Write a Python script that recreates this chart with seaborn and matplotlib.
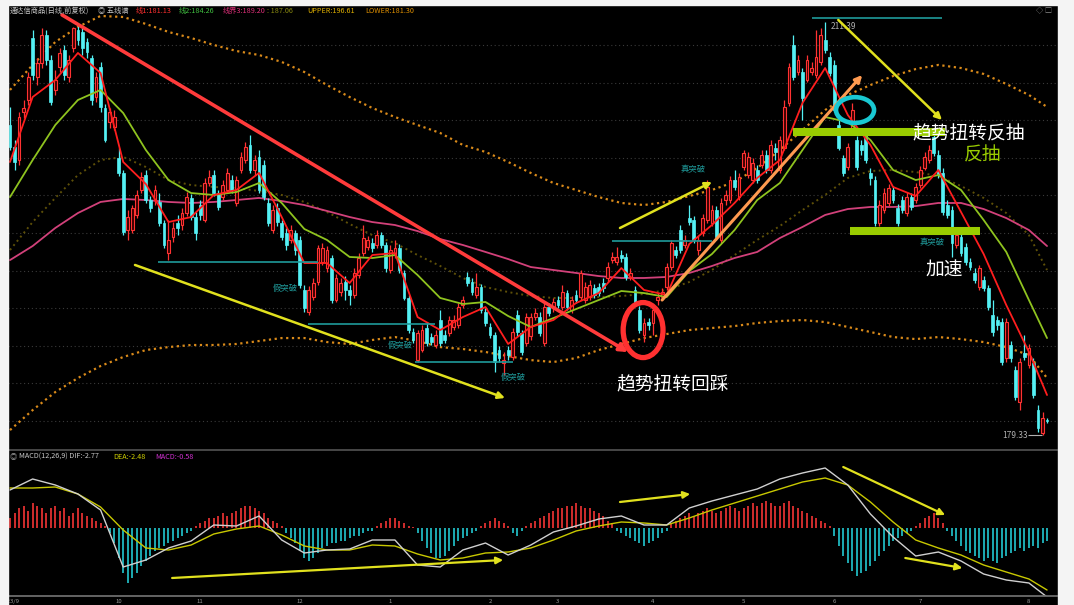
import numpy as np
import pandas as pd
import matplotlib
matplotlib.use("Agg")
import matplotlib.pyplot as plt
from matplotlib.patches import Ellipse, FancyArrowPatch, Rectangle
import seaborn as sns

W, H = 1074, 605

# ---- daily candles (230 bars) ----
opens = [
    203.40, 201.69, 200.68, 204.41, 205.34, 210.15, 207.13, 208.21, 210.38, 208.44,
    206.12, 207.90, 209.22, 207.13, 209.38, 210.77, 210.62, 209.84, 208.60, 205.57,
    207.90, 204.72, 203.63, 203.25, 200.84, 199.68, 195.25, 195.25, 196.42, 198.36,
    199.52, 197.58, 197.58, 197.43, 195.80, 193.47, 194.71, 195.80, 195.64, 196.57,
    197.74, 196.26, 197.19, 196.03, 198.90, 199.52, 198.12, 197.81, 198.36, 199.13,
    197.35, 199.91, 200.68, 201.85, 199.91, 200.92, 200.30, 197.35, 195.25, 196.96,
    195.80, 195.02, 194.48, 195.02, 194.48, 190.60, 188.89, 190.05, 191.22, 192.77,
    192.30, 193.08, 189.82, 190.44, 191.22, 190.60, 190.21, 191.76, 193.47, 193.93,
    194.24, 194.09, 194.86, 194.09, 192.15, 193.31, 193.86, 191.92, 189.98, 187.34,
    185.16, 185.94, 187.65, 186.95, 186.33, 188.27, 187.10, 187.26, 187.73, 187.88,
    189.43, 191.61, 191.22, 190.21, 190.83, 188.89, 187.73, 187.10, 185.94, 184.93,
    185.94, 185.40, 188.66, 187.26, 186.48, 187.03, 188.50, 188.50, 186.48, 189.28,
    189.20, 189.82, 189.28, 190.36, 189.04, 190.21, 190.05, 189.82, 190.05, 190.75,
    190.83, 191.14, 191.53, 192.92, 192.77, 193.31, 193.16, 191.61, 190.60, 189.04,
    187.10, 188.11, 188.04, 189.82, 190.05, 190.83, 192.38, 193.70, 195.25, 194.09,
    196.18, 196.03, 193.70, 195.02, 196.03, 195.80, 196.80, 194.48, 197.58, 197.58,
    199.13, 197.81, 200.14, 199.52, 199.13, 199.91, 200.30, 201.07, 199.91, 201.62,
    199.91, 201.62, 205.11, 209.61, 207.51, 207.51, 206.89, 207.51, 207.28, 208.29,
    210.00, 208.68, 208.06, 203.40, 200.84, 200.14, 203.01, 202.24, 201.85, 202.78,
    199.68, 199.13, 195.80, 196.80, 197.35, 198.36, 196.96, 197.58, 196.57, 197.81,
    197.58, 198.74, 200.06, 200.68, 202.47, 201.07, 199.68, 197.19, 196.80, 194.09,
    194.71, 193.93, 192.77, 191.92, 190.83, 191.37, 190.75, 188.66, 188.27, 188.11,
    185.32, 186.33, 184.39, 181.91, 185.71, 184.78, 184.93, 181.28, 179.50, 180.51,
]
closes = [
    201.69, 200.53, 204.02, 204.72, 207.13, 207.28, 208.21, 210.38, 208.44, 205.19,
    206.89, 208.99, 207.28, 208.44, 210.93, 210.00, 209.38, 209.07, 205.34, 207.13,
    204.80, 202.24, 204.41, 204.02, 199.68, 195.10, 196.26, 196.96, 197.97, 199.37,
    197.58, 196.96, 198.36, 195.80, 194.09, 194.48, 195.41, 195.41, 196.57, 197.81,
    196.26, 195.02, 196.42, 198.90, 199.37, 198.12, 197.04, 198.74, 199.68, 198.36,
    199.13, 200.92, 201.69, 199.91, 200.68, 198.36, 197.81, 195.80, 196.80, 195.87,
    194.71, 194.09, 195.25, 193.70, 190.98, 189.20, 190.60, 191.14, 193.86, 193.86,
    193.70, 189.82, 191.53, 191.14, 190.60, 190.21, 191.92, 193.08, 194.63, 194.48,
    193.86, 194.86, 194.09, 192.30, 193.70, 193.86, 192.15, 189.98, 187.49, 186.72,
    187.26, 187.49, 186.48, 186.56, 187.10, 186.48, 186.72, 188.27, 188.27, 189.28,
    189.82, 191.14, 190.44, 190.83, 189.04, 188.04, 187.10, 185.01, 185.32, 185.16,
    185.55, 187.34, 187.34, 185.79, 188.50, 188.50, 188.81, 187.26, 189.28, 188.81,
    189.67, 189.43, 190.44, 189.28, 189.82, 189.82, 191.92, 190.83, 190.98, 190.21,
    190.36, 190.75, 192.38, 193.16, 193.16, 193.08, 191.61, 191.92, 189.67, 187.49,
    188.04, 187.88, 189.04, 190.05, 190.44, 192.38, 194.24, 193.31, 193.70, 194.48,
    195.87, 194.48, 194.48, 196.18, 198.59, 196.80, 194.71, 197.35, 197.97, 199.13,
    198.59, 199.37, 201.23, 200.92, 200.45, 199.13, 201.07, 199.91, 201.85, 201.31,
    202.24, 204.80, 207.90, 207.13, 208.44, 205.50, 208.44, 207.82, 208.68, 210.38,
    209.22, 207.44, 204.56, 201.62, 199.68, 201.69, 204.56, 200.14, 201.46, 200.68,
    199.29, 195.80, 197.19, 198.12, 198.51, 197.58, 195.80, 196.80, 197.81, 197.04,
    198.59, 199.91, 200.92, 201.46, 201.23, 199.52, 196.65, 196.42, 194.24, 194.86,
    193.47, 192.77, 192.38, 191.37, 192.30, 190.75, 189.28, 187.34, 187.88, 185.01,
    188.11, 185.32, 182.29, 185.01, 185.40, 186.10, 182.45, 179.89, 180.66, 180.43,
]
highs = [
    204.80, 202.24, 204.41, 205.34, 207.51, 210.77, 208.60, 210.93, 210.77, 208.83,
    207.67, 209.38, 209.61, 208.83, 211.01, 211.08, 210.93, 210.15, 208.83, 207.51,
    208.29, 205.03, 204.72, 204.56, 201.62, 199.91, 196.80, 197.19, 198.36, 199.75,
    199.91, 197.89, 198.74, 198.12, 196.03, 196.03, 195.87, 196.42, 196.96, 198.20,
    198.05, 196.65, 197.58, 199.29, 199.91, 199.91, 198.36, 199.13, 200.06, 199.52,
    199.44, 201.31, 202.08, 202.62, 201.07, 201.46, 200.68, 197.74, 197.19, 197.35,
    196.03, 195.41, 195.64, 195.25, 194.79, 190.98, 190.91, 191.53, 194.09, 194.24,
    194.01, 193.31, 191.84, 191.53, 191.68, 190.98, 192.30, 193.47, 195.64, 194.79,
    194.63, 195.25, 195.10, 194.32, 194.09, 194.48, 194.17, 192.15, 190.21, 187.65,
    187.49, 187.88, 188.11, 187.26, 187.49, 189.04, 187.49, 188.58, 188.66, 189.59,
    190.13, 191.99, 191.53, 191.92, 191.06, 189.20, 188.04, 187.34, 186.25, 185.79,
    186.25, 187.65, 189.04, 187.49, 188.81, 188.81, 189.20, 188.89, 189.59, 189.59,
    189.98, 190.13, 190.98, 190.60, 190.13, 190.60, 192.15, 191.22, 191.37, 191.06,
    191.14, 191.53, 192.77, 193.55, 193.93, 193.70, 193.47, 192.30, 190.91, 189.35,
    188.42, 188.42, 189.43, 190.36, 190.75, 192.69, 194.48, 194.01, 195.64, 194.86,
    197.19, 196.34, 194.79, 196.49, 199.13, 197.19, 197.11, 197.74, 198.36, 199.44,
    199.91, 199.68, 201.46, 201.31, 200.84, 200.30, 201.46, 201.46, 202.24, 202.00,
    202.55, 205.34, 208.21, 210.38, 208.83, 207.82, 208.83, 208.29, 210.77, 210.93,
    211.39, 209.07, 208.44, 203.79, 201.07, 202.00, 205.11, 202.55, 202.24, 203.17,
    200.06, 199.44, 197.58, 198.51, 198.82, 198.67, 197.27, 197.89, 198.20, 198.12,
    198.90, 200.22, 201.31, 201.85, 203.17, 201.46, 200.06, 197.58, 197.11, 195.25,
    195.02, 194.24, 193.08, 192.30, 192.54, 191.68, 190.98, 189.82, 188.58, 188.42,
    188.42, 186.64, 184.70, 185.32, 187.10, 186.41, 185.32, 181.67, 181.13, 180.66,
]
lows = [
    201.46, 199.91, 200.30, 203.94, 204.95, 206.89, 206.50, 207.82, 208.06, 204.95,
    205.73, 207.51, 206.89, 206.74, 209.07, 209.61, 208.83, 208.60, 204.95, 205.19,
    204.41, 202.08, 203.17, 203.01, 199.44, 194.86, 194.48, 195.02, 196.18, 198.12,
    197.35, 196.65, 197.19, 195.56, 193.86, 192.92, 194.32, 194.86, 195.25, 196.34,
    196.03, 194.48, 196.03, 195.87, 198.67, 197.89, 196.80, 197.58, 198.12, 198.12,
    197.11, 199.68, 200.45, 199.68, 199.52, 198.12, 197.58, 195.56, 195.02, 195.56,
    194.48, 193.70, 194.24, 193.31, 190.75, 188.89, 188.66, 189.82, 190.98, 192.54,
    191.99, 189.59, 189.67, 190.13, 189.82, 189.43, 189.98, 191.53, 193.23, 193.70,
    193.55, 193.86, 193.86, 191.99, 191.92, 193.08, 191.92, 189.82, 187.26, 186.48,
    185.01, 185.79, 186.25, 186.33, 186.10, 186.25, 186.48, 187.03, 187.49, 187.65,
    189.20, 190.91, 190.21, 189.98, 188.81, 187.80, 186.87, 184.23, 185.01, 184.00,
    185.16, 185.16, 187.03, 185.55, 186.25, 186.72, 188.27, 187.03, 186.25, 188.58,
    188.89, 189.20, 189.04, 189.04, 188.81, 189.59, 189.82, 189.59, 189.82, 189.98,
    190.13, 190.44, 191.22, 192.69, 192.54, 192.77, 191.37, 191.37, 189.43, 187.26,
    186.56, 187.49, 187.10, 189.43, 189.82, 190.60, 192.15, 193.08, 193.47, 193.86,
    195.64, 194.24, 193.31, 194.79, 195.80, 195.56, 194.48, 194.24, 197.19, 197.35,
    198.36, 197.58, 199.91, 199.29, 198.90, 198.90, 200.06, 199.68, 199.68, 200.68,
    199.68, 201.46, 204.87, 206.89, 207.28, 203.79, 206.74, 207.28, 207.05, 208.06,
    208.99, 207.20, 204.41, 201.46, 199.44, 199.91, 202.78, 199.91, 201.07, 200.45,
    198.74, 195.56, 195.56, 196.57, 197.11, 197.35, 195.56, 196.57, 196.34, 196.80,
    197.35, 198.51, 199.91, 200.45, 200.99, 199.29, 196.42, 196.18, 193.16, 193.86,
    193.23, 192.54, 192.15, 191.14, 190.60, 190.52, 189.04, 187.03, 187.49, 184.78,
    185.01, 185.01, 182.06, 181.28, 185.16, 184.54, 182.22, 179.58, 179.33, 180.28,
]

# ---- indicator lines, read every 5 bars ----
line_idx = list(range(0, 230, 5)) + [229]
line1 = [200.53, 205.57, 206.89, 208.99, 207.44, 200.53, 198.82, 195.87, 196.26, 197.97,
         198.36, 199.68, 196.26, 192.69, 192.69, 191.14, 193.31, 193.47, 188.50, 187.49,
         188.50, 189.28, 186.41, 187.73, 188.27, 189.59, 190.36, 192.30, 190.60, 190.21,
         194.17, 195.64, 197.35, 199.29, 200.68, 205.11, 207.82, 204.18, 201.85, 198.59,
         197.89, 199.91, 196.65, 193.39, 189.43, 185.79, 182.45]
line2 = [197.81, 200.68, 203.40, 205.34, 206.12, 204.33, 201.46, 199.13, 198.12, 197.97,
         198.20, 198.90, 197.35, 195.33, 194.48, 193.16, 193.08, 193.31, 191.76, 189.98,
         189.51, 189.67, 188.58, 187.73, 188.42, 189.12, 189.82, 190.52, 190.36, 190.05,
         192.07, 193.39, 195.25, 197.58, 198.90, 201.46, 204.02, 203.63, 202.24, 199.91,
         199.13, 199.52, 198.36, 196.03, 193.55, 189.82, 186.87]
line3 = [192.92, 194.01, 195.41, 196.57, 197.43, 197.66, 197.58, 197.43, 197.35, 197.43,
         197.58, 197.74, 197.50, 197.19, 196.73, 196.26, 195.87, 195.64, 195.17, 194.55,
         194.09, 193.55, 193.00, 192.38, 192.15, 191.92, 191.68, 191.53, 191.53, 191.61,
         191.92, 192.46, 193.08, 193.55, 194.63, 195.49, 196.42, 196.88, 197.04, 197.04,
         197.11, 197.35, 197.35, 196.88, 196.18, 195.25, 194.01]
line4 = [193.70, 195.87, 197.74, 199.52, 200.68, 200.92, 200.14, 199.13, 198.74, 198.59,
         198.51, 198.28, 197.97, 197.43, 196.65, 195.72, 194.86, 194.24, 193.31, 192.46,
         191.53, 190.83, 190.44, 190.13, 189.98, 189.98, 190.05, 190.13, 190.29, 190.60,
         191.22, 192.15, 193.31, 194.48, 195.56, 196.80, 197.97, 199.29, 199.83, 199.91,
         199.75, 199.44, 198.67, 197.74, 196.57, 194.86, 192.15]
upper = [206.12, 208.06, 209.84, 211.01, 211.86, 211.78, 211.24, 210.62, 210.15, 209.61,
         209.14, 208.83, 208.29, 207.51, 206.50, 205.57, 204.72, 204.02, 203.40, 202.78,
         201.85, 201.31, 200.53, 199.68, 198.90, 198.36, 197.81, 197.35, 197.19, 197.43,
         197.89, 198.36, 198.98, 200.06, 201.46, 203.01, 204.56, 205.73, 206.50, 207.20,
         207.74, 208.06, 207.82, 207.36, 206.58, 205.73, 204.80]
lower = [179.73, 181.28, 182.68, 183.77, 184.70, 185.40, 185.94, 186.17, 186.33, 186.33,
         186.41, 186.64, 186.87, 186.87, 186.56, 186.41, 186.72, 186.95, 186.64, 186.17,
         186.02, 185.79, 185.47, 185.16, 185.01, 185.32, 185.94, 186.41, 186.87, 187.18,
         187.49, 187.65, 187.80, 188.04, 188.19, 188.27, 188.11, 187.73, 187.34, 186.95,
         186.79, 186.95, 186.79, 186.56, 186.17, 185.55, 183.77]

# ---- MACD(12,26,9) ----
dif = [1.52, 1.96, 1.72, 1.36, 0.72, -1.56, -1.28, -0.80, -0.52, 0.12,
       0.08, 0.48, -0.48, -1.00, -0.88, -0.84, -0.48, -0.48, -1.48, -1.56,
       -0.88, -0.60, -1.08, -0.68, -0.16, 0.08, 0.36, 0.48, 0.12, 0.12,
       0.80, 1.08, 1.32, 1.56, 1.96, 2.20, 2.40, 1.72, 0.56, -0.36,
       -1.12, -0.96, -1.32, -1.84, -2.08, -2.20, -2.76]
dea = [1.60, 1.60, 1.64, 1.36, 0.84, -0.08, -0.80, -0.88, -0.68, -0.24,
       -0.04, 0.08, -0.28, -0.72, -0.88, -0.88, -0.68, -0.72, -1.04, -1.28,
       -1.20, -1.00, -0.96, -0.80, -0.48, -0.12, 0.08, 0.24, 0.20, 0.12,
       0.40, 0.72, 1.00, 1.28, 1.56, 1.84, 2.00, 1.72, 1.04, 0.24,
       -0.48, -0.80, -1.08, -1.48, -1.76, -2.04, -2.48]
macd_hist = (
    [0.4, 0.6, 0.8, 0.9, 0.7, 1.0, 0.9, 0.8, 0.6, 0.8, 0.9, 0.7, 0.8, 0.5, 0.6, 0.8, 0.6, 0.5, 0.4, 0.3, 0.2, 0.1]
    + [-0.2, -0.6, -1.2, -1.8, -2.2, -2.0, -1.8, -1.5, -1.3, -1.1, -0.9, -0.8, -0.7, -0.6, -0.5, -0.4, -0.3, -0.2, -0.1]
    + [0.1, 0.2, 0.3, 0.4, 0.4, 0.5, 0.6, 0.5, 0.6, 0.7, 0.8, 0.9, 0.9, 0.8, 0.7, 0.6, 0.4, 0.3, 0.2, 0.1]
    + [-0.2, -0.4, -0.6, -0.9, -1.2, -1.3, -1.2, -1.0, -0.8, -0.7, -0.6, -0.6, -0.5, -0.5, -0.4, -0.3, -0.3, -0.2, -0.1, -0.1]
    + [0.1, 0.2, 0.3, 0.4, 0.4, 0.3, 0.2, 0.1, 0.05]
    + [-0.2, -0.5, -0.8, -1.0, -1.2, -1.2, -1.1, -0.9, -0.7, -0.5, -0.4, -0.3, -0.2, -0.1]
    + [0.1, 0.2, 0.3, 0.4, 0.3, 0.2, 0.1]
    + [-0.2, -0.3, -0.1]
    + [0.1, 0.2, 0.3, 0.4, 0.5, 0.6, 0.7, 0.8, 0.8, 0.9, 0.9, 1.0, 0.9, 0.8, 0.8, 0.7, 0.6, 0.5, 0.3, 0.2]
    + [-0.1, -0.2, -0.3, -0.4, -0.5, -0.6, -0.7, -0.6, -0.5, -0.4, -0.2, -0.1]
    + [0.2, 0.3, 0.4, 0.5, 0.6, 0.5, 0.6, 0.7, 0.8, 0.7, 0.6, 0.7, 0.8, 0.9, 0.8, 0.7, 0.8, 0.9,
       1.0, 0.9, 1.0, 1.1, 1.0, 0.9, 0.9, 1.0, 1.1, 0.9, 0.8, 0.7, 0.6, 0.5, 0.4, 0.3, 0.2, 0.1]
    + [-0.3, -0.7, -1.1, -1.4, -1.7, -1.9, -1.8, -1.7, -1.5, -1.3, -1.1, -0.9, -0.7, -0.5, -0.4, -0.3, -0.2, -0.1]
    + [0.1, 0.2, 0.4, 0.5, 0.6, 0.4, 0.2]
    + [-0.1, -0.3, -0.5, -0.7, -0.9, -1.0, -1.1, -1.2, -1.3, -1.2, -1.3, -1.4, -1.2, -1.1, -1.0,
       -0.9, -0.8, -0.9, -0.8, -0.7, -0.8, -0.6, -0.5]
)

tick_pos = [0, 24, 42, 64, 84, 106, 121, 142, 162, 182, 201, 225]
tick_labels = ["2023/9", "10", "11", "12", "1", "2", "3", "4", "5", "6", "7", "8"]

# ---- style ----
sns.set_theme(style="dark", rc={"axes.facecolor": "black", "figure.facecolor": "black"})
plt.rcParams['font.family'] = ['Noto Sans CJK SC', 'DejaVu Sans']
plt.rcParams['axes.unicode_minus'] = False

RED = '#ff3232'
CYAN = '#54f0f4'
YEL = '#e1e11e'
TEAL = '#1f9a9a'

df = pd.DataFrame({'o': opens, 'h': highs, 'l': lows, 'c': closes})
df['i'] = np.arange(len(df))
up = df['c'] >= df['o']

fig = plt.figure(figsize=(W / 100, H / 100), dpi=100)
ax = fig.add_axes([8 / W, 1 - 448 / H, 1049 / W, 443 / H])
ax2 = fig.add_axes([8 / W, 1 - 596 / H, 1049 / W, 146 / H])

xlim = (-0.44, 231.2)
ax.set_xlim(*xlim)
ax.set_ylim(178.34, 212.71)
ax2.set_xlim(*xlim)
ax2.set_ylim(-2.72, 3.12)

for a in (ax, ax2):
    a.set_facecolor('black')
    for s in a.spines.values():
        s.set_visible(False)
    a.grid(False)
    a.set_yticks([])

# horizontal dotted grid
for g in 209.61 - 2.918 * np.arange(11):
    ax.axhline(g, color='#3a3a3a', lw=0.8, ls=(0, (1, 2.5)), zorder=0)

# bands and moving averages
sns.lineplot(x=line_idx, y=upper, ax=ax, color='#d98a1a', linewidth=1.6, linestyle=(0, (1, 1.6)), legend=False, zorder=1)
sns.lineplot(x=line_idx, y=lower, ax=ax, color='#d98a1a', linewidth=1.6, linestyle=(0, (1, 1.6)), legend=False, zorder=1)
sns.lineplot(x=line_idx, y=line4, ax=ax, color='#5e5008', linewidth=1.4, linestyle=(0, (1, 1.8)), legend=False, zorder=1)
sns.lineplot(x=line_idx, y=line3, ax=ax, color='#d2417a', linewidth=1.3, legend=False, zorder=2)

# candles
ax.vlines(df.i[~up], df.l[~up], df.h[~up], color=CYAN, lw=0.9, zorder=3)
ax.vlines(df.i[up], df.l[up], df.h[up], color=RED, lw=0.9, zorder=3)
body = (df.c - df.o).abs().clip(lower=0.06)
ax.bar(df.i[~up], body[~up], bottom=df[['o', 'c']].min(axis=1)[~up], width=0.62,
       color=CYAN, edgecolor=CYAN, linewidth=0.5, zorder=4)
ax.bar(df.i[up], body[up], bottom=df[['o', 'c']].min(axis=1)[up], width=0.62,
       color='#3a0000', edgecolor=RED, linewidth=0.8, zorder=4)

sns.lineplot(x=line_idx, y=line2, ax=ax, color='#8fc31f', linewidth=1.3, legend=False, zorder=5)
sns.lineplot(x=line_idx, y=line1, ax=ax, color='#ff1e1e', linewidth=1.3, legend=False, zorder=5)

# support / resistance lines and their labels
for y0, x0, x1 in [(192.77, 32.7, 68.0), (187.96, 65.8, 93.9), (185.01, 89.4, 111.1),
                   (194.40, 133.0, 155.0), (211.70, 177.0, 205.8)]:
    ax.hlines(y0, x0, x1, color=TEAL, lw=1.2, zorder=6)
for xt, yt, s in [(60.7, 190.75, '假突破'), (86.1, 186.33, '假突破'), (111.1, 183.84, '假突破'),
                  (150.8, 199.91, '真突破'), (203.6, 194.24, '真突破')]:
    ax.text(xt, yt, s, color=TEAL, fontsize=6, ha='center', va='center', zorder=7)
ax.text(181.3, 211.39, '211.39', color='#b0b0b0', fontsize=6, ha='left', va='top', zorder=7)
ax.text(224.7, 179.33, '179.33', color='#b0b0b0', fontsize=6, ha='right', va='center', zorder=7)
ax.hlines(179.33, 224.9, 227.8, color='#b0b0b0', lw=0.8, zorder=7)


def arrow(a, p0, p1, color, lw=1.8, ms=10):
    a.add_patch(FancyArrowPatch(p0, p1, arrowstyle='-|>', mutation_scale=ms, color=color,
                                lw=lw, shrinkA=0, shrinkB=0, zorder=8))


# drawn annotations
arrow(ax, (11.5, 211.94), (136.5, 185.78), '#ff3b3b', lw=2.6, ms=12)
arrow(ax, (27.6, 192.54), (109.3, 182.22), YEL)
arrow(ax, (134.7, 195.41), (155.0, 198.98), YEL)
arrow(ax, (144.0, 189.82), (188.2, 207.28), '#ff9a50', lw=2.2)
arrow(ax, (182.9, 211.55), (205.8, 203.79), YEL)
ax.add_patch(Ellipse((139.8, 187.49), 8.8, 4.27, fill=False, ec='#ff3030', lw=3.8, zorder=9))
ax.add_patch(Ellipse((186.6, 204.56), 8.4, 2.0, fill=False, ec='#19c8d2', lw=3.3, zorder=9))
ax.plot([172.9, 206.5], [202.86, 202.86], color='#99cc00', lw=5.8, solid_capstyle='butt', zorder=9)
ax.plot([185.5, 214.2], [195.17, 195.17], color='#99cc00', lw=5.8, solid_capstyle='butt', zorder=9)
ax.text(146.4, 183.22, '趋势扭转回踩', color='white', fontsize=13.5, ha='center', va='center', zorder=10)
ax.text(211.6, 202.70, '趋势扭转反抽', color='white', fontsize=13.5, ha='center', va='center', zorder=10)
ax.text(214.9, 201.07, '反抽', color='#99cc00', fontsize=13.5, ha='center', va='center', zorder=10)
ax.text(206.3, 192.15, '加速', color='white', fontsize=13.5, ha='center', va='center', zorder=10)
ax.set_xticks([])

# ---- MACD panel ----
hist = np.array(macd_hist)
ax2.vlines(np.arange(len(hist)), 0, hist, colors=np.where(hist >= 0, '#e03030', '#20b8c0'), lw=1.3)
sns.lineplot(x=line_idx, y=dea, ax=ax2, color='#c8c800', linewidth=1.0, legend=False)
sns.lineplot(x=line_idx, y=dif, ax=ax2, color='#d0d0d0', linewidth=1.0, legend=False)
arrow(ax2, (35.8, -2.0), (108.9, -1.28), YEL, lw=1.6)
arrow(ax2, (134.7, 1.04), (150.2, 1.36), YEL, lw=1.6)
arrow(ax2, (184.0, 2.44), (206.5, 0.52), YEL, lw=1.6)
arrow(ax2, (197.7, -1.2), (210.3, -1.6), YEL, lw=1.6)
ax2.spines['top'].set_visible(True)
ax2.spines['top'].set_color('#505050')
ax2.spines['bottom'].set_visible(True)
ax2.spines['bottom'].set_color('#707070')
ax2.set_xticks(tick_pos)
ax2.set_xticklabels(tick_labels, fontsize=4.3, color='#9a9a9a')
ax2.tick_params(axis='x', length=2, pad=0.3, color='#707070')

# ---- header texts ----
def ftext(x, y, s, color, size=5.2):
    fig.text(x / W, 1 - y / H, s, color=color, fontsize=size, va='center', ha='left')


for x, s, c in [(10, '通达信商品(日线,前复权)', '#c8c8c8'), (98, '◎ 五线谱', '#c8c8c8'),
                (136, '线1:181.13', '#ff3030'), (179, '线2:184.26', '#40c040'),
                (223, '线界3:189.20', '#e0307a'), (267, ': 187.06', '#8a8a10'),
                (307, 'UPPER:196.61', '#e0b000'), (365, 'LOWER:181.30', '#e09000')]:
    ftext(x, 11, s, c)
for x, s, c in [(10, '◎', '#a0a0a0'), (19, 'MACD(12,26,9) DIF:-2.77', '#c8c8c8'),
                (113, 'DEA:-2.48', '#d0d000'), (155, 'MACD:-0.58', '#d030d0')]:
    ftext(x, 457, s, c)
ftext(1036, 11, '◇ □', '#8a8a8a')

# white page margins
for rect in [(0, 0, 8 / W, 1), (0, 1 - 5 / H, 1, 5 / H), (1058 / W, 0, 16 / W, 1)]:
    fig.add_artist(Rectangle(rect[:2], rect[2], rect[3], transform=fig.transFigure,
                             color='#f4f4f4', zorder=20))

fig.savefig('out.png', dpi=100, facecolor='black')
